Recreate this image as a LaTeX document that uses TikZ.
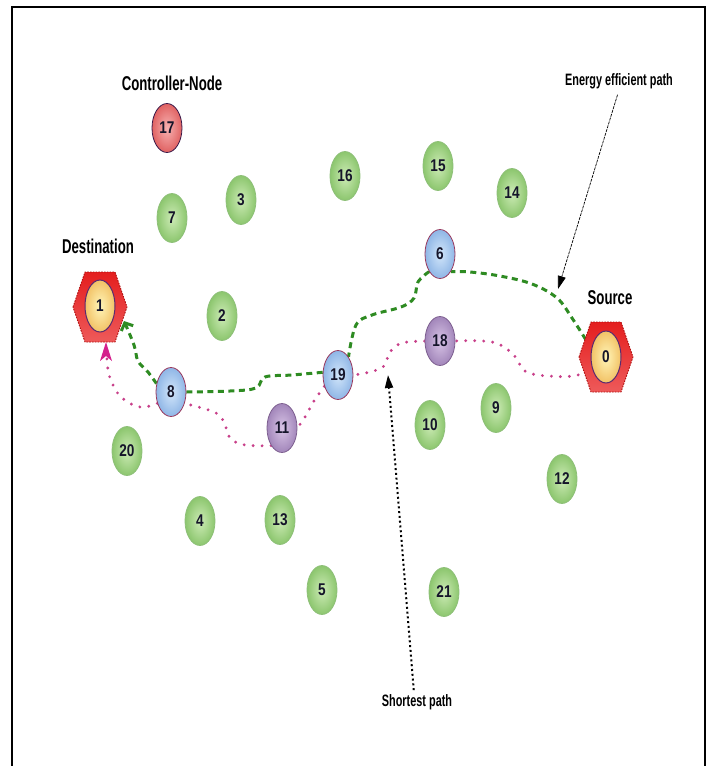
\documentclass[tikz,border=0pt]{standalone}
\usepackage{fontspec}
\setmainfont{Liberation Sans}
\newfontfamily\captionfont[FakeStretch=0.66]{Liberation Sans}
\newfontfamily\numberfont[FakeStretch=0.8]{Liberation Sans}
\usetikzlibrary{shapes.geometric,arrows.meta,backgrounds}

\definecolor{numcol}{HTML}{15152A}
\definecolor{ginner}{HTML}{CDEBB6}
\definecolor{gouter}{HTML}{8CC66E}
\definecolor{gborder}{HTML}{8FC07A}
\definecolor{binner}{HTML}{D2E6FA}
\definecolor{bouter}{HTML}{8FB6E6}
\definecolor{bborder}{HTML}{9A3A5E}
\definecolor{pinner}{HTML}{D8C4E6}
\definecolor{pouter}{HTML}{A286BA}
\definecolor{pborder}{HTML}{7E6090}
\definecolor{rinner}{HTML}{F7B2B2}
\definecolor{router}{HTML}{E06262}
\definecolor{rborder}{HTML}{3A1A4A}
\definecolor{hextop}{HTML}{E41E1E}
\definecolor{hexbot}{HTML}{EE5A5A}
\definecolor{hexedge}{HTML}{B01010}
\definecolor{yinner}{HTML}{FFF5B8}
\definecolor{youter}{HTML}{F2C266}
\definecolor{yborder}{HTML}{5A2A70}
\definecolor{energygreen}{HTML}{2E8B22}
\definecolor{shortpink}{HTML}{C8408A}
\definecolor{arrowpink}{HTML}{D4208C}

\begin{document}
\begin{tikzpicture}[x=1pt,y=-1pt,
  sensor/.style={ellipse, minimum width=30pt, minimum height=49pt, inner sep=0pt,
    line width=0.8pt, text=numcol,
    font=\numberfont\bfseries\fontsize{17}{17}\selectfont},
  plain/.style={sensor, draw=gborder, inner color=ginner, outer color=gouter},
  relay/.style={sensor, draw=bborder, inner color=binner, outer color=bouter},
  hop/.style={sensor, draw=pborder, inner color=pinner, outer color=pouter},
  controller/.style={sensor, draw=rborder, inner color=rinner, outer color=router},
  endpoint/.style={sensor, minimum width=30pt, minimum height=52pt, line width=1pt,
    draw=yborder, inner color=yinner, outer color=youter},
  hexbody/.style={top color=hextop, bottom color=hexbot, draw=hexedge,
    line width=0.9pt, dash pattern=on 1.6pt off 1.2pt},
  caption/.style={font=\captionfont\bfseries\fontsize{20}{20}\selectfont, inner sep=1pt},
  smallcaption/.style={font=\captionfont\bfseries\fontsize{16.5}{16.5}\selectfont, inner sep=1pt},
  energy/.style={draw=energygreen, line width=3pt, dash pattern=on 6pt off 4.5pt},
  shortest/.style={draw=shortpink, line width=3.2pt, line cap=round,
    dash pattern=on 0pt off 9pt},
  pointer/.style={draw=black, -{Triangle[length=13pt,width=8pt]}}
]
\useasboundingbox (0,0) rectangle (710,766);

% frame (open at the bottom edge)
\draw[line width=2.5pt] (12,766) -- (12,7) -- (705,7) -- (705,766);

% hexagonal markers of destination and source
\foreach \c in {(100,307),(606,357)}
  \path[hexbody, shift={\c}] (-27,0) -- (-15,-35) -- (15,-35) -- (27,0)
        -- (15,35) -- (-15,35) -- cycle;

% destination and source nodes
\node[endpoint] (dst) at (100,306) {1};
\node[endpoint] (src) at (606,357) {0};
\coordinate (dst-e) at (124,321);
\coordinate (dst-s) at (106,342);

% controller
\node[controller] (n17) at (167,128) {17};

% relay nodes of the energy efficient path
\node[relay] (n6)  at (440,254) {6};
\node[relay] (n19) at (338,375) {19};
\node[relay] (n8)  at (171,392) {8};

% extra hops of the shortest path
\node[hop] (n18) at (440,341) {18};
\node[hop] (n11) at (282,428) {11};

% remaining sensor nodes
\node[plain] (n7)  at (172,218) {7};
\node[plain] (n3)  at (241,200) {3};
\node[plain] (n16) at (345,176) {16};
\node[plain] (n15) at (438,166) {15};
\node[plain] (n14) at (512,193) {14};
\node[plain] (n2)  at (222,316) {2};
\node[plain] (n10) at (430,425) {10};
\node[plain] (n9)  at (496,408) {9};
\node[plain] (n12) at (562,479) {12};
\node[plain] (n20) at (127,451) {20};
\node[plain] (n4)  at (200,521) {4};
\node[plain] (n13) at (280,520) {13};
\node[plain] (n5)  at (322,590) {5};
\node[plain] (n21) at (444,592) {21};

% captions
\node[caption] (lctrl) at (172,83) {Controller-Node};
\node[caption] (ldst) at (98,246) {Destination};
\node[caption] (lsrc) at (610,298) {Source};
\node[smallcaption] (lee) at (619,81) {Energy efficient path};
\node[smallcaption] (lsp) at (417,702) {Shortest path};

% routes, behind the nodes
\begin{pgfonlayer}{background}
  % energy efficient route 0 - 6 - 19 - 8 - 1
  \draw[energy] plot[smooth, tension=0.6] coordinates
    {(src.150) (572,318) (557,298) (532,284) (500,276) (470,272) (n6.south east)};
  \draw[energy] plot[smooth, tension=0.6] coordinates
    {(n6.south west) (418,282) (414,298) (401,307) (372,315) (356,325) (n19.60)};
  \draw[energy] plot[smooth, tension=0.6] coordinates
    {(n19.170) (292,375) (265,377) (256,388) (230,391) (n8.east)};
  \draw[energy, -{Straight Barb[length=6pt,width=13pt]}] plot[smooth, tension=0.6] coordinates
    {(n8.150) (148,372) (138,361) (134,345) (dst-e)};

  % shortest route 0 - 18 - 19 - 11 - 8 - 1
  \draw[shortest] plot[smooth, tension=0.6] coordinates
    {(src.200) (578,375) (548,376) (525,371) (513,354) (492,342) (n18.east)};
  \draw[shortest] plot[smooth, tension=0.6] coordinates
    {(n18.west) (402,343) (390,352) (384,366) (370,372) (n19.east)};
  \draw[shortest] plot[smooth, tension=0.6] coordinates
    {(n19.220) (314,401) (305,417) (n11.east)};
  \draw[shortest] plot[smooth, tension=0.6] coordinates
    {(n11.south west) (245,445) (230,438) (224,422) (214,412) (n8.-40)};
  \draw[shortest] plot[smooth, tension=0.6] coordinates
    {(n8.220) (140,407) (121,397) (110,378) (107,360) (dst-s)};
  \fill[arrowpink] (dst-s) -- (100,361) -- (106,356) -- (112,361) -- cycle;
\end{pgfonlayer}

% pointers from the captions
\coordinate (eetip) at (558,289);
\coordinate (sptip) at (388,375);
\draw[pointer, line width=0.7pt, dash pattern=on 3pt off 1pt, shorten <=5pt]
  (lee.south) -- (eetip);
\draw[pointer, line width=2pt, dash pattern=on 2pt off 2.8pt, shorten <=3pt]
  ([xshift=-3pt]lsp.north) -- (sptip);
\end{tikzpicture}
\end{document}
